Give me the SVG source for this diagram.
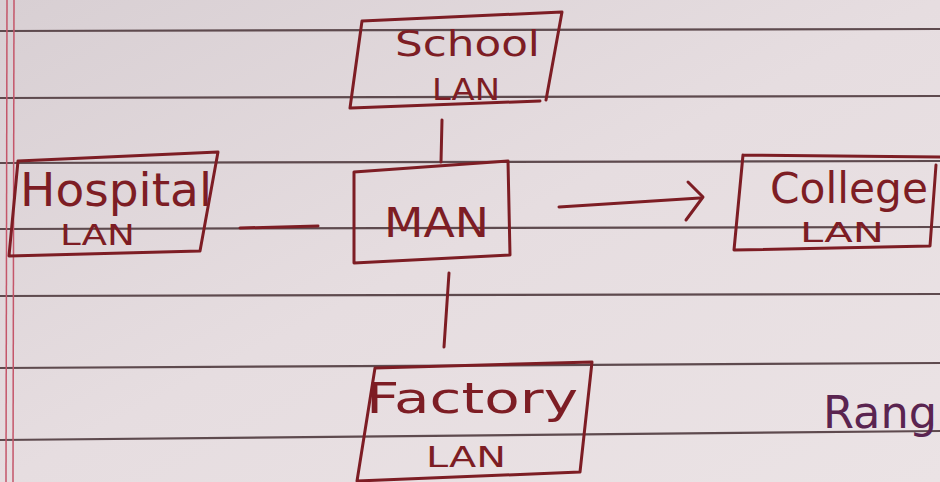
<svg xmlns="http://www.w3.org/2000/svg" width="940" height="482" viewBox="0 0 940 482">
<defs>
<linearGradient id="paper" x1="0" y1="0" x2="1" y2="1">
<stop offset="0" stop-color="#d8cfd3"/>
<stop offset="0.5" stop-color="#e6dde0"/>
<stop offset="1" stop-color="#ebe3e5"/>
</linearGradient>
<style>
.rule{stroke:#5e4a4e;stroke-width:2.2;fill:none}
.margin{stroke:#c4566a;stroke-width:1.5;fill:none}
.box{fill:none;stroke:#7d1d24;stroke-width:3;stroke-linejoin:round;stroke-linecap:round}
.ink{fill:#7d1d24;font-family:"DejaVu Sans","Liberation Sans",sans-serif}
.conn{fill:none;stroke:#7d1d24;stroke-width:3;stroke-linecap:round;stroke-linejoin:round}
</style>
</defs>
<rect width="940" height="482" fill="url(#paper)"/>
<g id="paper-lines">
<path class="rule" d="M0 31 L940 29"/>
<path class="rule" d="M0 98 L940 96"/>
<path class="rule" d="M0 163 L940 161"/>
<path class="rule" d="M0 229 L940 227"/>
<path class="rule" d="M0 296 L940 294"/>
<path class="rule" d="M0 368 L940 363"/>
<path class="rule" d="M0 440 L940 431"/>
<path class="margin" d="M7 0 L6 482"/>
<path class="margin" d="M14 0 L13 482"/>
</g>
<g id="connectors">
<path class="conn" d="M442 120 L441 162"/>
<path class="conn" d="M449 273 L444 347"/>
<path class="conn" d="M240 228 L318 226"/>
<path class="conn" d="M559 207 L700 198"/>
<path class="conn" d="M688 182 L703 197 L686 220"/>
</g>
<g id="school-lan">
<path class="box" d="M362 21 L562 12 L546 100 M351 108 L540 101 M362 21 L350 108"/>
<text class="ink" x="395" y="56" font-size="36" textLength="145" lengthAdjust="spacingAndGlyphs">School</text>
<text class="ink" x="432" y="100" font-size="30" textLength="68" lengthAdjust="spacingAndGlyphs">LAN</text>
</g>
<g id="man">
<path class="box" d="M354 172 L508 161 L510 255 L354 263 Z"/>
<text class="ink" x="384" y="237" font-size="40" textLength="105" lengthAdjust="spacingAndGlyphs">MAN</text>
</g>
<g id="hospital-lan">
<path class="box" d="M18 161 L218 152 L200 251 L9 256 Z"/>
<text class="ink" x="20" y="206" font-size="46" textLength="192" lengthAdjust="spacingAndGlyphs">Hospital</text>
<text class="ink" x="60" y="245" font-size="28" textLength="75" lengthAdjust="spacingAndGlyphs">LAN</text>
</g>
<g id="college-lan">
<path class="box" d="M743 155 L945 157 M936 165 L930 246 L734 250 L743 155"/>
<text class="ink" x="770" y="203" font-size="42" textLength="158" lengthAdjust="spacingAndGlyphs">College</text>
<text class="ink" x="800" y="242" font-size="26" textLength="84" lengthAdjust="spacingAndGlyphs">LAN</text>
</g>
<g id="factory-lan">
<path class="box" d="M375 368 L592 362 L580 472 L357 481 Z"/>
<text class="ink" x="366" y="413" font-size="42" textLength="212" lengthAdjust="spacingAndGlyphs">Factory</text>
<text class="ink" x="426" y="467" font-size="28" textLength="80" lengthAdjust="spacingAndGlyphs">LAN</text>
</g>
<text x="823" y="428" font-size="44" fill="#5a2450" font-family="DejaVu Sans, Liberation Sans, sans-serif" textLength="114" lengthAdjust="spacingAndGlyphs">Rang</text>
</svg>
